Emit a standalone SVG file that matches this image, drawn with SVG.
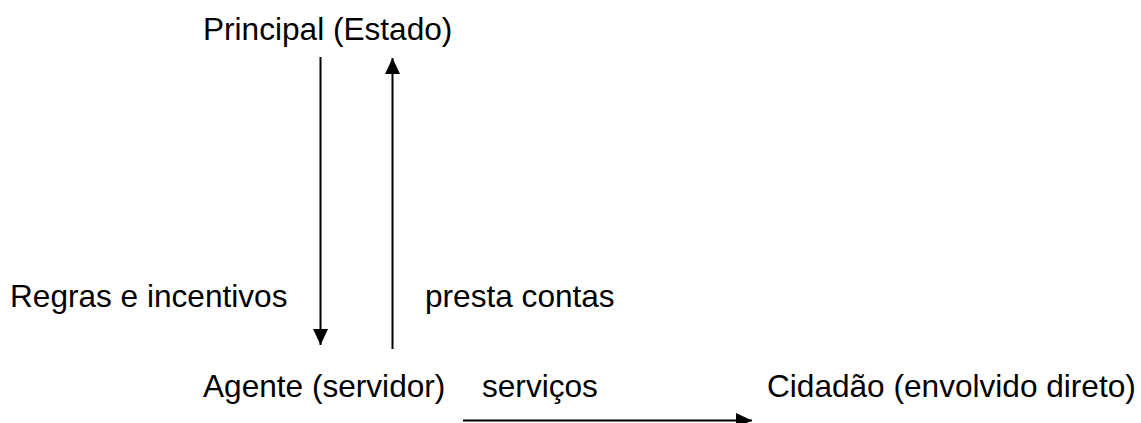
<svg xmlns="http://www.w3.org/2000/svg" width="1141" height="423" viewBox="0 0 1141 423">
<style>
text{font-family:"Liberation Sans",Arial,sans-serif;font-size:31.6px;fill:#000}
.c{stroke:#000;stroke-width:2;fill:none}
</style>
<defs>
<marker id="ah" markerUnits="userSpaceOnUse" markerWidth="16" markerHeight="16" viewBox="0 0 16 16" refX="16" refY="8" orient="auto">
<path d="M0,0.5 L16,8 L0,15.5 Z" fill="#000"/>
</marker>
</defs>
<rect width="1141" height="423" fill="#fff"/>
<g id="principal"><text x="203" y="40">Principal (Estado)</text></g>
<g id="agente"><text x="203" y="397">Agente (servidor)</text></g>
<g id="cidadao"><text x="767" y="397">Cidadão (envolvido direto)</text></g>
<g id="connectors">
<line class="c" x1="320.5" y1="57" x2="320.5" y2="345" marker-end="url(#ah)"/>
<line class="c" x1="392.5" y1="349" x2="392.5" y2="58" marker-end="url(#ah)"/>
<line class="c" x1="463" y1="420.5" x2="752" y2="420.5" marker-end="url(#ah)"/>
<text x="10" y="307">Regras e incentivos</text>
<text x="425" y="307">presta contas</text>
<text x="482" y="397">serviços</text>
</g>
</svg>
